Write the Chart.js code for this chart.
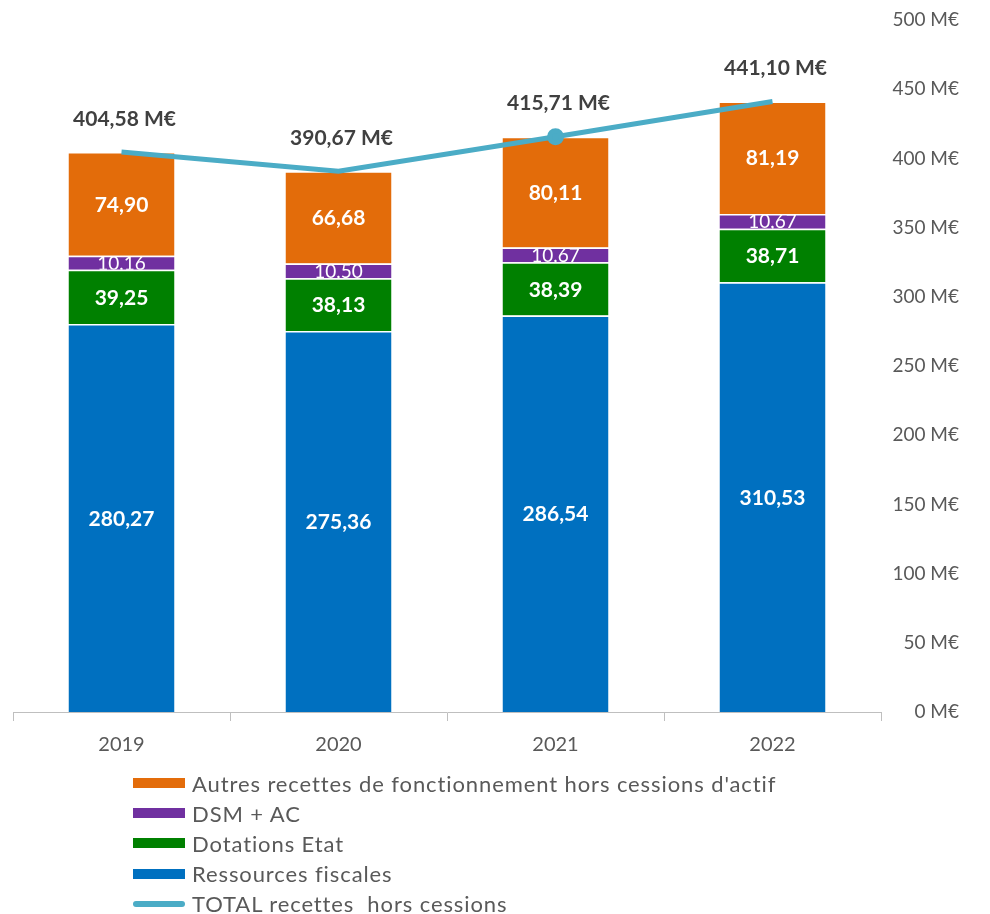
<!DOCTYPE html>
<html>
<head>
<meta charset="utf-8">
<script src="https://cdn.jsdelivr.net/npm/chart.js@4"></script>
<style>
  body { margin: 0; background: #fff; font-family: Lato, sans-serif; overflow: hidden; }
  #wrap { position: relative; width: 990px; height: 914px; }
  #chartBox { position: absolute; left: 0; top: 0; width: 990px; height: 769px; }
  #legend { position: absolute; left: 133px; top: 768px; }
  .item { display: flex; align-items: center; height: 30.2px; font-size: 22px; letter-spacing: 0.9px; color: #595959; white-space: pre; }
  .sw { width: 52px; margin-right: 7px; }
</style>
</head>
<body>
<div id="wrap">
  <div id="chartBox"><canvas id="recettesChart"></canvas></div>
  <div id="legend"></div>
</div>
<script>
const years = ["2019", "2020", "2021", "2022"];
const ressourcesFiscales = [280.27, 275.36, 286.54, 310.53];
const dotationsEtat = [39.25, 38.13, 38.39, 38.71];
const dsmAc = [10.16, 10.50, 10.67, 10.67];
const autresRecettes = [74.90, 66.68, 80.11, 81.19];
const totalRecettes = [404.58, 390.67, 415.71, 441.10];

const fmt = v => v.toFixed(2).replace('.', ',');

// draws the numbers inside the bars and the totals over the line
const labelPlugin = {
  id: 'labels',
  afterDatasetsDraw(chart) {
    const ctx = chart.ctx;
    chart.data.datasets.forEach((ds, i) => {
      const meta = chart.getDatasetMeta(i);
      meta.data.forEach((el, j) => {
        const v = ds.data[j];
        ctx.save();
        ctx.textAlign = 'center';
        ctx.textBaseline = 'middle';
        if (ds.type === 'line') {
          ctx.fillStyle = '#404040';
          ctx.font = 'bold 21px Lato';
          ctx.fillText(fmt(v) + ' M€', el.x + 3, el.y - 33);
        } else {
          const top = Math.min(el.y, el.base), bot = Math.max(el.y, el.base);
          if (ds.small) {
            ctx.beginPath();
            ctx.rect(el.x - el.width / 2, top, el.width, bot - top);
            ctx.clip();
            ctx.font = '19px Lato';
          } else {
            ctx.font = 'bold 21px Lato';
          }
          ctx.fillStyle = '#fff';
          ctx.fillText(fmt(v), el.x, (top + bot) / 2 + 1);
        }
        ctx.restore();
      });
    });
  }
};

const chart = new Chart("recettesChart", {
  type: "bar",
  data: {
    labels: years,
    datasets: [{
      type: "line",
      label: "TOTAL recettes  hors cessions",
      data: totalRecettes,
      borderColor: "#4BACC6",
      backgroundColor: "#4BACC6",
      borderWidth: 5,
      pointRadius: [0, 0, 6, 0],
      pointHoverRadius: 0,
      tension: 0,
      stack: "total",
      order: 0
    }, {
      label: "Ressources fiscales",
      data: ressourcesFiscales,
      backgroundColor: "#0070C0",
      order: 1
    }, {
      label: "Dotations Etat",
      data: dotationsEtat,
      backgroundColor: "#008000",
      order: 1
    }, {
      label: "DSM + AC",
      data: dsmAc,
      backgroundColor: "#7030A0",
      small: true,
      order: 1
    }, {
      label: "Autres recettes de fonctionnement hors cessions d'actif",
      data: autresRecettes,
      backgroundColor: "#E36C0A",
      order: 1
    }]
  },
  options: {
    responsive: true,
    maintainAspectRatio: false,
    animation: false,
    datasets: {
      bar: {
        borderColor: "#fff",
        borderWidth: 1.5,
        categoryPercentage: 1,
        barPercentage: 0.5,
        stack: "recettes"
      }
    },
    layout: { padding: { left: 13, right: 31, top: 20, bottom: 0 } },
    scales: {
      x: {
        stacked: true,
        grid: {
          display: true,
          offset: true,
          drawOnChartArea: false,
          tickLength: 9,
          color: '#bfbfbf'
        },
        border: { color: '#bfbfbf' },
        ticks: { color: '#595959', font: { family: 'Lato', size: 20 }, padding: 12 }
      },
      y: {
        stacked: true,
        position: 'right',
        min: 0,
        max: 500,
        grid: { display: false },
        border: { display: false },
        afterFit: s => { s.width = 78; },
        ticks: {
          stepSize: 50,
          crossAlign: 'far',
          padding: 0,
          color: '#595959',
          font: { family: 'Lato', size: 19 },
          callback: v => v + ' M€'
        }
      }
    },
    plugins: {
      legend: { display: false },
      tooltip: { enabled: false }
    }
  },
  plugins: [labelPlugin]
});

// legend built from the chart datasets, listed like the original
const legendOrder = [4, 3, 2, 1, 0];
const legend = document.getElementById('legend');
legendOrder.forEach(i => {
  const ds = chart.data.datasets[i];
  const row = document.createElement('div');
  row.className = 'item';
  const sw = document.createElement('span');
  sw.className = 'sw';
  sw.style.background = ds.type === 'line' ? ds.borderColor : ds.backgroundColor;
  sw.style.height = ds.type === 'line' ? '6px' : '10px';
  if (ds.type === 'line') sw.style.borderRadius = '3px';
  row.appendChild(sw);
  row.appendChild(document.createTextNode(ds.label));
  legend.appendChild(row);
});
</script>
</body>
</html>
